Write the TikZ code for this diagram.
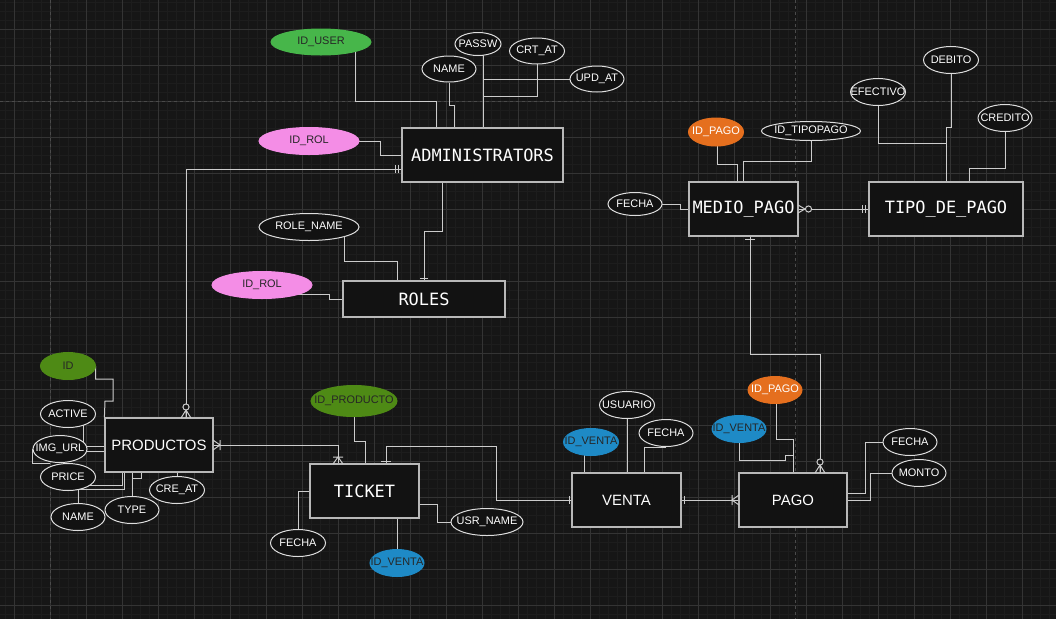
\documentclass[tikz,border=0pt]{standalone}
\usepackage{fontspec}
\setmainfont{Liberation Sans}
\newfontfamily\monofam{DejaVu Sans Mono}
\usetikzlibrary{shapes.geometric}

\definecolor{bgc}{HTML}{161616}
\definecolor{minorc}{HTML}{1D1D1D}
\definecolor{majorc}{HTML}{343434}
\definecolor{breakc}{HTML}{4A4A4A}
\definecolor{boxfill}{HTML}{121212}
\definecolor{boxline}{HTML}{B8B8B8}
\definecolor{attrline}{HTML}{DEDEDE}
\definecolor{connc}{HTML}{CCCCCC}
\definecolor{keytext}{HTML}{262626}
\definecolor{greenuser}{HTML}{47B64A}
\definecolor{greenprod}{HTML}{4E8A15}
\definecolor{pinkrol}{HTML}{F48DE6}
\definecolor{blueventa}{HTML}{1E8AC6}
\definecolor{orangepago}{HTML}{E56F1E}

% attribute text may run past its ellipse, as in the drawing
\newcommand\atxt[1]{\makebox[0pt]{#1}}

\pgfdeclarelayer{gridlayer}
\pgfdeclarelayer{edges}
\pgfsetlayers{gridlayer,edges,main}

\tikzset{
  ent/.style={draw=boxline, line width=0.9pt, fill=boxfill, text=white, inner sep=0pt,
    font=\monofam\fontsize{12.7}{14}\selectfont},
  entsans/.style={ent, font=\fontsize{11.2}{13}\selectfont},
  esz/.style 2 args={minimum width=#1*0.75pt, minimum height=#2*0.75pt},
  attr/.style={ellipse, draw=attrline, line width=0.75pt, fill=boxfill, text=white,
    inner sep=0pt, font=\fontsize{8.2}{9}\selectfont,
    minimum width=41.25pt, minimum height=20.25pt},
  asz/.style 2 args={minimum width=#1*0.75pt, minimum height=#2*0.75pt},
  keyattr/.style={attr, fill=#1, draw=#1, text=keytext},
  conn/.style={draw=connc, line width=0.75pt},
  mk/.style={draw=connc, line width=0.75pt},
  minorline/.style={draw=minorc, line width=0.5pt},
  majorline/.style={draw=majorc, line width=0.6pt},
  pagebreak/.style={draw=breakc, line width=0.75pt, dash pattern=on 2.25pt off 2.25pt},
}

\begin{document}
\begin{tikzpicture}[x=0.75pt, y=-0.75pt]
\useasboundingbox (0,0) rectangle (1056,619);

% background and grid
\begin{pgfonlayer}{gridlayer}
\fill[bgc] (0,0) rectangle (1056,619);
\foreach \x in {5.3,14.3,...,1056} \draw[minorline] (\x,0) -- (\x,619);
\foreach \y in {2.3,11.3,...,619} \draw[minorline] (0,\y) -- (1056,\y);
\foreach \x in {14.3,50.3,...,1056} \draw[majorline] (\x,0) -- (\x,619);
\foreach \y in {29.3,65.3,...,619} \draw[majorline] (0,\y) -- (1056,\y);
\draw[pagebreak] (50.6,0) -- (50.6,619) (795,0) -- (795,619) (0,101) -- (1056,101);
\end{pgfonlayer}

% entities
\node[ent, esz={161}{54}] (adm) at (482.5,155) {ADMINISTRATORS};
\node[ent, esz={162}{36}] (roles) at (424,299) {ROLES};
\node[entsans, esz={108}{54}] (prod) at (159,445) {PRODUCTOS};
\node[ent, esz={109}{54}] (ticket) at (364.5,491) {TICKET};
\node[entsans, esz={109}{54}] (venta) at (626.5,500) {VENTA};
\node[entsans, esz={108}{54}] (pago) at (793,500) {PAGO};
\node[ent, esz={109}{54}] (medio) at (743.5,209) {MEDIO\_PAGO};
\node[ent, esz={154}{54}] (tipo) at (946,209) {TIPO\_DE\_PAGO};

% administrators attributes
\node[keyattr=greenuser, asz={100}{26}] (iduser) at (321,42) {\atxt{ID\_USER}};
\node[attr, asz={46}{23}] (passw) at (478,44) {\atxt{PASSW}};
\node[attr, asz={55}{26}] (crtat) at (537,51) {\atxt{CRT\_AT}};
\node[attr, asz={54}{26}] (name1) at (449,69) {\atxt{NAME}};
\node[attr, asz={54}{26}] (updat) at (597,79) {\atxt{UPD\_AT}};
\node[keyattr=pinkrol, asz={100}{27}] (idrol1) at (309,141) {\atxt{ID\_ROL}};

% roles attributes
\node[attr, asz={100}{27}] (rolename) at (309,227) {\atxt{ROLE\_NAME}};
\node[keyattr=pinkrol, asz={100}{27}] (idrol2) at (262,285) {\atxt{ID\_ROL}};

% productos attributes
\node[keyattr=greenprod] (idp) at (68,366) {\atxt{ID}};
\node[attr] (active) at (68,414) {\atxt{ACTIVE}};
\node[attr, asz={54}{27}] (imgurl) at (60,449) {\atxt{IMG\_URL}};
\node[attr] (price) at (68,477) {\atxt{PRICE}};
\node[attr, asz={54}{27}] (name2) at (78,517) {\atxt{NAME}};
\node[attr, asz={54}{27}] (type) at (132,510) {\atxt{TYPE}};
\node[attr] (creat) at (177,490) {\atxt{CRE\_AT}};

% ticket attributes
\node[keyattr=greenprod, asz={86}{31}] (idproducto) at (354,401) {\atxt{ID\_PRODUCTO}};
\node[attr] (fechat) at (298,543) {\atxt{FECHA}};
\node[keyattr=blueventa, asz={54}{27}] (idvt) at (397,563) {\atxt{ID\_VENTA}};
\node[attr, asz={72}{27}] (usrname) at (487,522) {\atxt{USR\_NAME}};

% venta attributes
\node[attr] (usuario) at (627,405) {\atxt{USUARIO}};
\node[attr, asz={54}{27}] (fechav) at (666,433) {\atxt{FECHA}};
\node[keyattr=blueventa] (idvv) at (591,442) {\atxt{ID\_VENTA}};

% pago attributes
\node[keyattr=orangepago, asz={54}{27}, text=white] (idpg) at (775,390) {\atxt{ID\_PAGO}};
\node[keyattr=blueventa, asz={54}{27}] (idvp) at (739,429) {\atxt{ID\_VENTA}};
\node[attr, asz={54}{27}] (fechap) at (910,442) {\atxt{FECHA}};
\node[attr, asz={54}{27}] (monto) at (919,473) {\atxt{MONTO}};

% medio_pago attributes
\node[keyattr=orangepago, asz={55}{28}, text=white] (idpm) at (716,132) {\atxt{ID\_PAGO}};
\node[attr, asz={99}{19}] (idtipopago) at (811,131) {\atxt{ID\_TIPOPAGO}};
\node[attr, asz={54}{23}] (fecham) at (635,204) {\atxt{FECHA}};

% tipo_de_pago attributes
\node[attr] (efectivo) at (878,92) {\atxt{EFECTIVO}};
\node[attr] (debito) at (951,60) {\atxt{DEBITO}};
\node[attr, asz={54}{27}] (credito) at (1005,118) {\atxt{CREDITO}};

% connectors
\begin{pgfonlayer}{edges}
\draw[conn] (iduser.center -| 355,0) |- (436,101) -- (adm.north -| 436,0);
\draw[conn] (name1.south) |- (454,105) -- (adm.north -| 454,0);
\draw[conn] (passw.center -| 483,0) -- (adm.north -| 483,0);
\draw[conn] (crtat.center) |- (483,96);
\draw[conn] (updat.center) -- (updat.center -| 483,0);
\draw[conn] (idrol1.center) -| (380,155) -- (adm.west);
\draw[conn] (adm.south -| 442,0) |- (424,231) -- (roles.north -| 424,0);
\draw[conn] (rolename.center -| 344,0) |- (397,261) -- (roles.north -| 397,0);
\draw[conn] (idrol2.center |- 0,294) -| (329,299) -- (roles.west);
\draw[conn] (adm.west |- 0,169) -| (prod.north -| 186,0);
\draw[conn] (idp.center -| 95.5,0) |- (113,379) |- (105,401) -- (prod.north west);
\draw[conn] (active.center -| 83,0) |- (prod.west |- 0,446);
\draw[conn] (imgurl.center |- 0,451) -- (prod.west |- 0,451);
\draw[conn] (imgurl.center -| 32,0) |- (50,463);
\draw[conn] (price.center |- 0,485) -| (prod.south -| 122,0);
\draw[conn] (name2.center) |- (124,489) -- (prod.south -| 124,0);
\draw[conn] (type.center -| 132,0) -- (prod.south -| 132,0);
\draw[conn] (132,478) -| (prod.south -| 141,0);
\draw[conn] (creat.center) -- (prod.south -| 177,0);
\draw[conn] (prod.east) -| (ticket.north -| 338,0);
\draw[conn] (idproducto.center) |- (365,441) -- (ticket.north -| 365,0);
\draw[conn] (ticket.west) -| (fechat.center);
\draw[conn] (ticket.south -| 397,0) -- (idvt.center);
\draw[conn] (ticket.east |- 0,504) -| (437,522) -- (usrname.center);
\draw[conn] (ticket.north -| 386,0) |- (496,446) |- (venta.west);
\draw[conn] (idvv.center -| 584,0) -- (venta.north -| 584,0);
\draw[conn] (usuario.center) -- (venta.north -| 627,0);
\draw[conn] (fechav.center |- 0,447) -| (venta.north -| 644,0);
\draw[conn] (venta.east) -- (pago.west);
\draw[conn] (idpg.center -| 776,0) |- (793,439) -- (pago.north);
\draw[conn] (idvp.center) |- (785,460) |- (793,455);
\draw[conn] (pago.east |- 0,493) -| (865,442) -- (fechap.center);
\draw[conn] (pago.east) -| (870,473) -- (monto.center);
\draw[conn] (medio.south -| 750,0) |- (820,354) -- (pago.north -| 820,0);
\draw[conn] (idpm.center -| 717,0) |- (737,164) -- (medio.north -| 737,0);
\draw[conn] (idtipopago.center) |- (743,161) -- (medio.north -| 743,0);
\draw[conn] (fecham.center) -| (680,209) -- (medio.west);
\draw[conn] (medio.east) -- (tipo.west);
\draw[conn] (efectivo.center) |- (946,143);
\draw[conn] (debito.center) |- (946,127) -- (tipo.north);
\draw[conn] (credito.center) |- (969,168) -- (tipo.north -| 969,0);
\end{pgfonlayer}

% relationship ends
\draw[mk] (420,278) -- (428,278);
\draw[mk] (395,165) -- (395,173) (398,165) -- (398,173);
\draw[mk] (181,418) -- (186,410) -- (191,418) (186,410) -- (186,418);
\draw[mk, fill=bgc] (186,407) circle (2.3pt);
\draw[mk] (213,440) -- (220,445) -- (213,450) (220,440) -- (220,450);
\draw[mk] (333,464) -- (338,457) -- (343,464) (333,457) -- (343,457);
\draw[mk] (381,461) -- (391,461);
\draw[mk] (569,496) -- (569,504);
\draw[mk] (684,496) -- (684,504);
\draw[mk] (739,495) -- (732,500) -- (739,505) (732,495) -- (732,505);
\draw[mk] (745,239) -- (755,239);
\draw[mk] (815,473) -- (820,465) -- (825,473) (820,465) -- (820,473);
\draw[mk, fill=bgc] (820,462) circle (2.3pt);
\draw[mk] (798,205) -- (805,209) -- (798,213);
\draw[mk, fill=bgc] (808.5,209) circle (2.3pt);
\draw[mk] (862,205) -- (862,213) (865.5,205) -- (865.5,213);
\end{tikzpicture}
\end{document}
